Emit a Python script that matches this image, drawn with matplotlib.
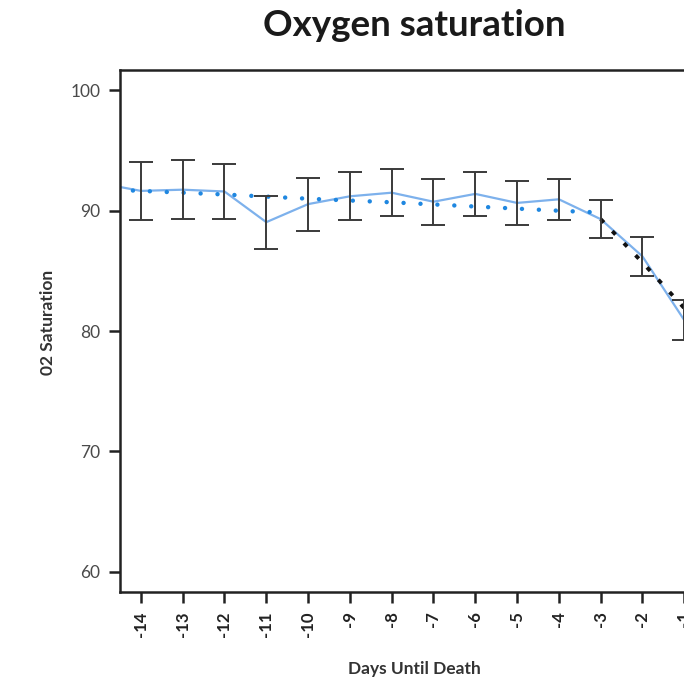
import matplotlib
matplotlib.use("Agg")
import matplotlib.pyplot as plt

plt.rcParams['font.family'] = ['Lato', 'DejaVu Sans']

# daily mean O2 saturation with confidence interval half-widths
days = [-14, -13, -12, -11, -10, -9, -8, -7, -6, -5, -4, -3, -2, -1]
mean_sat = [91.65, 91.75, 91.6, 89.05, 90.55, 91.2, 91.5, 90.75, 91.4, 90.65, 90.95, 89.3, 86.2, 80.9]
ci_half = [2.4, 2.45, 2.3, 2.2, 2.2, 2.0, 1.95, 1.9, 1.8, 1.8, 1.7, 1.6, 1.65, 1.65]

# line continues past the left edge of the plot
line_days = [-15] + days
line_sat = [92.3] + mean_sat

# fitted trend before the drop (blue) and after it (black)
trend_days = [-15, -14, -12, -10, -8, -6, -4, -3]
trend_sat = [91.8, 91.65, 91.35, 91.0, 90.7, 90.35, 90.0, 89.85]
drop_days = [-3, -2, -1]
drop_sat = [89.3, 85.7, 81.9]

fig = plt.figure(figsize=(6.84, 6.83), dpi=100)
ax = fig.add_axes([0.1754, 0.1332, 0.9167, 0.7643])

ax.plot(line_days, line_sat, color='#7DB1EC', lw=1.6, zorder=2)
ax.plot(trend_days, trend_sat, color='#1F87E0', lw=3.2,
        linestyle=(0, (0.01, 3.8)), dash_capstyle='round', zorder=3)
ax.plot(drop_days, drop_sat, color='#111111', lw=2.8,
        linestyle=(0, (1.2, 3.1)), dash_capstyle='butt', zorder=3)
ax.errorbar(days, mean_sat, yerr=ci_half, fmt='none', ecolor='#3a3a3a',
            elinewidth=1.4, capsize=8.5, capthick=1.4, zorder=4)

ax.set_xlim(-14.5, 0.5)
ax.set_ylim(58.3, 101.7)
ax.set_xticks(days)
ax.set_xticklabels([str(d) for d in days], rotation=90, fontsize=12,
                   color='#222222', fontweight='bold')
ax.set_yticks([60, 70, 80, 90, 100])
ax.set_yticklabels(['60', '70', '80', '90', '100'], fontsize=12.5, color='#4a4a4a')
ax.tick_params(axis='both', length=8, width=1.8, color='#222222', pad=6)

for s in ax.spines.values():
    s.set_linewidth(1.8)
    s.set_color('#222222')

fig.text(414 / 684, 1 - 26 / 683, 'Oxygen saturation', ha='center', va='center',
         fontsize=26.5, fontweight='bold', color='#1a1a1a')
fig.text(414 / 684, 1 - 669 / 683, 'Days Until Death', ha='center', va='center',
         fontsize=12.5, fontweight='bold', color='#333333')
fig.text(48 / 684, 1 - 322 / 683, '02 Saturation', ha='center', va='center',
         rotation=90, fontsize=12.5, fontweight='bold', color='#333333')

fig.savefig('out.png', dpi=100)
